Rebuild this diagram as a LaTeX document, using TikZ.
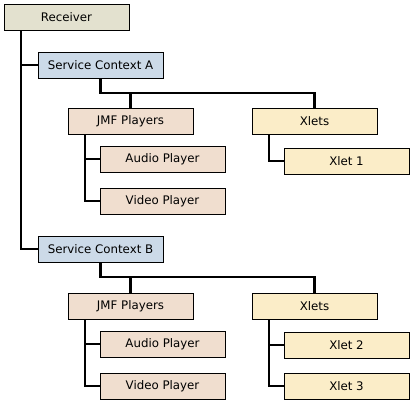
\documentclass[tikz,border=0pt]{standalone}
\usepackage{fontspec}
\setmainfont{DejaVu Sans}
\definecolor{recfill}{HTML}{E3E1CF}
\definecolor{scfill}{HTML}{CCDAE8}
\definecolor{jmffill}{HTML}{F0DECF}
\definecolor{xfill}{HTML}{FBEDC8}
\begin{document}
\begin{tikzpicture}[x=1pt,y=-1pt,
  box/.style={draw=black,line width=0.9pt,anchor=north west,minimum width=125pt,minimum height=26pt,inner sep=0pt,outer sep=0pt,font=\fontsize{11.8}{13}\selectfont},
  recbox/.style={box,fill=recfill},
  scbox/.style={box,fill=scfill},
  jmfbox/.style={box,fill=jmffill},
  xbox/.style={box,fill=xfill},
  link/.style={draw=black,line width=2.8pt,line cap=butt,line join=miter}]
\useasboundingbox (0,0) rectangle (420,404);
% nodes
\node[recbox] (rec) at (4,4) {Receiver};
\node[scbox] (sca) at (38,52) {Service Context A};
\node[jmfbox] (jmfA) at (68,108) {JMF Players};
\node[xbox] (xA) at (252,108) {Xlets};
\node[jmfbox] (audA) at (100,146) {Audio Player};
\node[jmfbox] (vidA) at (100,188) {Video Player};
\node[xbox] (x1) at (284,148) {Xlet 1};
\node[scbox] (scb) at (38,236) {Service Context B};
\node[jmfbox] (jmfB) at (68,293) {JMF Players};
\node[xbox] (xB) at (252,293) {Xlets};
\node[jmfbox] (audB) at (100,331) {Audio Player};
\node[jmfbox] (vidB) at (100,373) {Video Player};
\node[xbox] (x2) at (284,332) {Xlet 2};
\node[xbox] (x3) at (284,373) {Xlet 3};
% trunk coordinates
\coordinate (t0) at (21,31);
\coordinate (bA) at (100.5,93);
\coordinate (bB) at (100.5,277);
\coordinate (tjA) at (85,134);
\coordinate (txA) at (269,134);
\coordinate (tjB) at (85,319);
\coordinate (txB) at (269,319);
% connectors
\draw[link] (t0) |- (sca.west);
\draw[link] (t0) |- (scb.west);
\draw[link] (sca.south) -- (bA) -| (xA.north);
\draw[link] (bA -| jmfA.north) -- (jmfA.north);
\draw[link] (tjA) |- (audA.west);
\draw[link] (tjA) |- (vidA.west);
\draw[link] (txA) |- (x1.west);
\draw[link] (scb.south) -- (bB) -| (xB.north);
\draw[link] (bB -| jmfB.north) -- (jmfB.north);
\draw[link] (tjB) |- (audB.west);
\draw[link] (tjB) |- (vidB.west);
\draw[link] (txB) |- (x2.west);
\draw[link] (txB) |- (x3.west);
\end{tikzpicture}
\end{document}
